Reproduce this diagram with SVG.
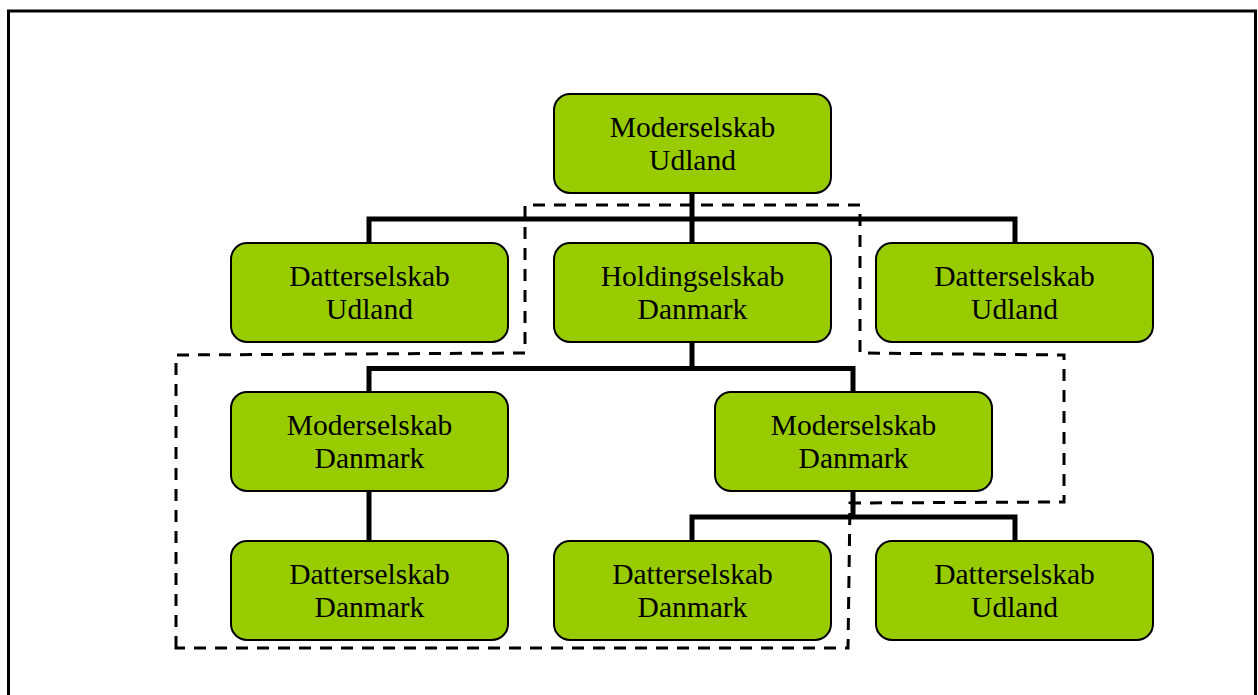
<svg xmlns="http://www.w3.org/2000/svg" width="1258" height="695" viewBox="0 0 1258 695">
<style>
.box{fill:#99CC00;stroke:#000;stroke-width:2}
.lbl{font-family:"Liberation Serif","Times New Roman",serif;font-size:29.5px;fill:#000;text-anchor:middle}
.conn{fill:none;stroke:#000;stroke-width:5;stroke-linejoin:miter;stroke-linecap:butt}
.dash{fill:none;stroke:#000;stroke-width:3;stroke-dasharray:12 9}
</style>
<rect x="0" y="0" width="1258" height="695" fill="#fff"/>
<rect x="8.5" y="11" width="1247" height="720" fill="none" stroke="#000" stroke-width="3"/>
<g id="connectors">
<path class="conn" d="M692,193 V219 M369,243 V219 H1015 V243 M692,219 V243"/>
<path class="conn" d="M692,343 V368.5 M369,392 V368.5 H853 V392"/>
<path class="conn" d="M369,491 V541"/>
<path class="conn" d="M853,491 V517 M692,541 V517 H1015 V541"/>
</g>
<g id="dashed-outline">
<path class="dash" d="M176,648 V355 L525,353 V205 H860 V353 L1064,355 V502 L850,503 L848,648 Z"/>
</g>
<g id="n1"><rect class="box" x="554" y="94" width="277" height="99" rx="16"/><text class="lbl" x="692.5" y="137">Moderselskab</text><text class="lbl" x="692.5" y="170">Udland</text></g>
<g id="n2"><rect class="box" x="231" y="243" width="277" height="99" rx="16"/><text class="lbl" x="369.5" y="286">Datterselskab</text><text class="lbl" x="369.5" y="319">Udland</text></g>
<g id="n3"><rect class="box" x="554" y="243" width="277" height="99" rx="16"/><text class="lbl" x="692.5" y="286">Holdingselskab</text><text class="lbl" x="692.5" y="319">Danmark</text></g>
<g id="n4"><rect class="box" x="876" y="243" width="277" height="99" rx="16"/><text class="lbl" x="1014.5" y="286">Datterselskab</text><text class="lbl" x="1014.5" y="319">Udland</text></g>
<g id="n5"><rect class="box" x="231" y="392" width="277" height="99" rx="16"/><text class="lbl" x="369.5" y="435">Moderselskab</text><text class="lbl" x="369.5" y="468">Danmark</text></g>
<g id="n6"><rect class="box" x="715" y="392" width="277" height="99" rx="16"/><text class="lbl" x="853.5" y="435">Moderselskab</text><text class="lbl" x="853.5" y="468">Danmark</text></g>
<g id="n7"><rect class="box" x="231" y="541" width="277" height="99" rx="16"/><text class="lbl" x="369.5" y="584">Datterselskab</text><text class="lbl" x="369.5" y="617">Danmark</text></g>
<g id="n8"><rect class="box" x="554" y="541" width="277" height="99" rx="16"/><text class="lbl" x="692.5" y="584">Datterselskab</text><text class="lbl" x="692.5" y="617">Danmark</text></g>
<g id="n9"><rect class="box" x="876" y="541" width="277" height="99" rx="16"/><text class="lbl" x="1014.5" y="584">Datterselskab</text><text class="lbl" x="1014.5" y="617">Udland</text></g>
</svg>
